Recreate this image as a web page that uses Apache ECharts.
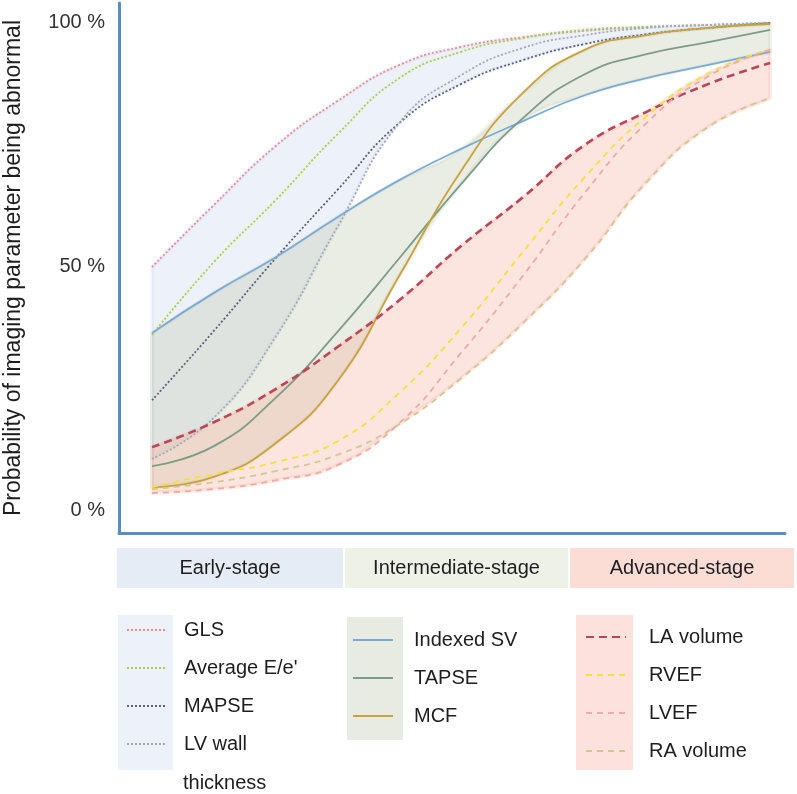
<!DOCTYPE html>
<html>
<head>
<meta charset="utf-8">
<script src="https://cdn.jsdelivr.net/npm/echarts@6/dist/echarts.min.js"></script>
<style>html,body{margin:0;padding:0;background:#fff;}#c{width:797px;height:794px;}</style>
</head>
<body>
<div id="c"></div>
<script>
// ---- data (probability %) ----
const xVals = [0, 10, 20, 30, 40, 50, 60, 70, 80, 90, 100];
const yTickValues = [0, 50, 100];
const stageLabels = ['Early-stage', 'Intermediate-stage', 'Advanced-stage'];

const gls       = [49.8, 62.5, 74.6, 83.8, 91.2, 94.9, 96.9, 98.2, 99.0, 99.4, 99.8];
const avgEe     = [35.9, 50.8, 63.5, 77.0, 88.5, 93.9, 96.7, 98.4, 99.0, 99.4, 99.8];
const mapse     = [22.5, 36.7, 51.6, 65.6, 79.3, 87.3, 92.2, 95.5, 97.5, 98.8, 99.8];
const lvWall    = [10.5, 18.9, 35.5, 58.0, 79.3, 89.1, 94.7, 97.3, 98.8, 99.4, 99.8];

const indexedSV = [36.3, 44.5, 51.8, 60.0, 67.6, 74.0, 79.7, 85.0, 88.5, 91.2, 93.9];
const tapse     = [9.0, 13.1, 23.0, 36.5, 51.6, 66.8, 80.3, 89.3, 93.4, 95.9, 98.4];
const mcf       = [4.7, 6.8, 13.7, 26.4, 48.0, 69.5, 85.5, 94.3, 97.3, 98.8, 99.6];

const laVolume  = [12.9, 18.0, 24.8, 33.4, 43.0, 54.1, 64.1, 74.8, 81.6, 87.3, 91.6];
const rvef      = [4.7, 7.4, 9.8, 14.1, 24.0, 37.3, 52.9, 68.2, 80.7, 89.5, 94.3];
const lvef      = [3.5, 4.3, 6.1, 9.2, 17.8, 32.2, 48.0, 65.0, 79.3, 88.9, 94.3];
const raVolume  = [4.3, 5.7, 8.0, 11.3, 17.6, 27.0, 38.3, 51.4, 67.2, 78.5, 84.4];

const earlyNames = ['GLS', "Average E/e'", 'MAPSE', 'LV wall thickness'];
const interNames = ['Indexed SV', 'TAPSE', 'MCF'];
const advNames   = ['LA volume', 'RVEF', 'LVEF', 'RA volume'];

// ---- styling ----
const FONT = '"Liberation Sans", Arial, sans-serif';
const TXT = '#1e1e1e';
const SMOOTH = 0.5;

const lineDefs = [
  { name: 'GLS',               data: gls,       color: '#ea8d93', type: [2, 2], width: 1.8 },
  { name: "Average E/e'",      data: avgEe,     color: '#a6cd55', type: [2, 2], width: 1.8 },
  { name: 'MAPSE',             data: mapse,     color: '#5b6272', type: [2, 2], width: 1.8 },
  { name: 'LV wall thickness', data: lvWall,    color: '#a4a8b2', type: [2, 2], width: 1.8 },
  { name: 'Indexed SV',        data: indexedSV, color: '#7aaad6', type: 'solid', width: 1.8 },
  { name: 'TAPSE',             data: tapse,     color: '#7d9c88', type: 'solid', width: 1.8 },
  { name: 'MCF',               data: mcf,       color: '#c9a23e', type: 'solid', width: 1.8 },
  { name: 'LA volume',         data: laVolume,  color: '#b9475c', type: [8, 5], width: 2.6 },
  { name: 'RVEF',              data: rvef,      color: '#f1e33c', type: [6, 5], width: 1.8 },
  { name: 'LVEF',              data: lvef,      color: '#f1aaa8', type: [6, 5], width: 1.8 },
  { name: 'RA volume',         data: raVolume,  color: '#d2c792', type: [6, 5], width: 1.8 }
];

function envelope(arrs, fn) {
  return xVals.map((_, i) => fn.apply(null, arrs.map(a => a[i])));
}
const bands = [
  { upper: envelope([gls, avgEe, mapse, lvWall], Math.max), lower: envelope([gls, avgEe, mapse, lvWall], Math.min), fill: 'rgba(195,210,240,0.30)', glow: 'rgba(195,210,240,0.2)' },
  { upper: envelope([indexedSV, tapse, mcf], Math.max), lower: envelope([indexedSV, tapse, mcf], Math.min), fill: 'rgba(190,200,168,0.32)', glow: 'rgba(190,200,168,0.2)' },
  { upper: envelope([laVolume, rvef, lvef, raVolume], Math.max), lower: envelope([laVolume, rvef, lvef, raVolume], Math.min), fill: 'rgba(245,170,150,0.30)', glow: 'rgba(245,170,150,0.2)' }
];

function smoothSeg(pts, s, start) {
  const n = pts.length;
  const cps = pts.map((p, i) => {
    const prev = pts[Math.max(i - 1, 0)], next = pts[Math.min(i + 1, n - 1)];
    const vx = next[0] - prev[0], vy = next[1] - prev[1];
    const l0 = Math.hypot(p[0] - prev[0], p[1] - prev[1]);
    const l1 = Math.hypot(next[0] - p[0], next[1] - p[1]);
    const r = (l0 + l1) === 0 ? 0.5 : l1 / (l0 + l1);
    return { out: [p[0] + vx * s * r, p[1] + vy * s * r], inn: [p[0] - vx * s * (1 - r), p[1] - vy * s * (1 - r)] };
  });
  let d = (start ? 'M' : 'L') + pts[0][0] + ',' + pts[0][1];
  for (let i = 1; i < n; i++) {
    d += 'C' + cps[i - 1].out[0] + ',' + cps[i - 1].out[1] + ',' + cps[i].inn[0] + ',' + cps[i].inn[1] + ',' + pts[i][0] + ',' + pts[i][1];
  }
  return d;
}

const series = [];
bands.forEach((b, bi) => {
  series.push({
    type: 'custom',
    name: '_band' + bi,
    silent: true,
    z: 1,
    data: [[0, 0]],
    renderItem: function (params, api) {
      const up = xVals.map((x, i) => api.coord([x, b.upper[i]]));
      const lo = xVals.map((x, i) => api.coord([x, b.lower[i]])).reverse();
      const d = smoothSeg(up, SMOOTH, true) + smoothSeg(lo, SMOOTH, false) + 'Z';
      return { type: 'path', shape: { pathData: d }, style: { fill: b.fill, stroke: b.glow, lineWidth: 4, lineJoin: 'round' } };
    }
  });
});
lineDefs.forEach(l => {
  series.push({
    type: 'line',
    name: l.name,
    z: 3,
    smooth: SMOOTH,
    symbol: 'none',
    showSymbol: false,
    lineStyle: { color: l.color, width: l.width, type: l.type },
    itemStyle: { color: l.color },
    data: xVals.map((x, i) => [x, l.data[i]])
  });
});

function legendCfg(names, left, top, textPad) {
  return {
    orient: 'vertical', left: left, top: top, padding: 0,
    itemWidth: 40, itemHeight: 14, itemGap: 14,
    selectedMode: false,
    itemStyle: { opacity: 0 },
    data: names,
    formatter: n => (n === 'LV wall thickness' ? 'LV wall' : n),
    textStyle: { fontFamily: FONT, fontSize: 20, color: TXT, lineHeight: 24, padding: [0, 0, 0, textPad] }
  };
}

const headerY = 548, headerH = 40;
const headers = [
  { x: 117, w: 226, color: '#e5ecf6' },
  { x: 345, w: 223, color: '#eef1e5' },
  { x: 570, w: 224, color: '#fbddd6' }
];
const graphics = [];
headers.forEach((h, i) => {
  graphics.push({ type: 'rect', left: h.x, top: headerY, shape: { width: h.w, height: headerH }, style: { fill: h.color }, z: 0 });
  graphics.push({ type: 'text', x: h.x + h.w / 2, y: headerY + headerH / 2, style: { text: stageLabels[i], font: '20px ' + FONT, fill: TXT, align: 'center', verticalAlign: 'middle' }, z: 1 });
});
// legend backgrounds
graphics.push({ type: 'rect', left: 118, top: 615, shape: { width: 55, height: 155 }, style: { fill: '#edf1f9' }, z: 0 });
graphics.push({ type: 'rect', left: 347, top: 617, shape: { width: 56, height: 123 }, style: { fill: '#e8ebe2' }, z: 0 });
graphics.push({ type: 'rect', left: 576, top: 615, shape: { width: 57, height: 155 }, style: { fill: '#fbe2dd' }, z: 0 });
graphics.push({ type: 'text', x: 183, y: 783, style: { text: 'thickness', font: '20px ' + FONT, fill: TXT, align: 'left', verticalAlign: 'middle' }, z: 1 });

const option = {
  backgroundColor: '#fff',
  animation: false,
  grid: { left: 119, right: 12, top: 3, bottom: 261, outerBoundsMode: 'none' },
  xAxis: {
    type: 'value', min: -5.34, max: 102.4,
    axisLine: { show: true, onZero: false, lineStyle: { color: '#5b8bc1', width: 3 } },
    axisTick: { show: false }, axisLabel: { show: false }, splitLine: { show: false }
  },
  yAxis: {
    type: 'value', min: -4.7, max: 103.9,
    name: 'Probability of imaging parameter being abnormal',
    nameLocation: 'middle', nameGap: 94, nameRotate: 90,
    nameTextStyle: { fontFamily: FONT, fontSize: 23, color: TXT },
    axisLine: { show: true, onZero: false, lineStyle: { color: '#5b8bc1', width: 3 } },
    axisTick: { show: false },
    splitLine: { show: false },
    axisLabel: {
      customValues: yTickValues, margin: 14,
      formatter: v => v + ' %',
      fontFamily: FONT, fontSize: 20, color: '#333'
    }
  },
  legend: [
    legendCfg(earlyNames, 126, 618, 12),
    legendCfg(interNames, 352, 628, 16),
    legendCfg(advNames, 585, 625, 18)
  ],
  graphic: graphics,
  series: series
};

const chart = echarts.init(document.getElementById('c'), null, { renderer: 'canvas' });
chart.setOption(option);
</script>
</body>
</html>
